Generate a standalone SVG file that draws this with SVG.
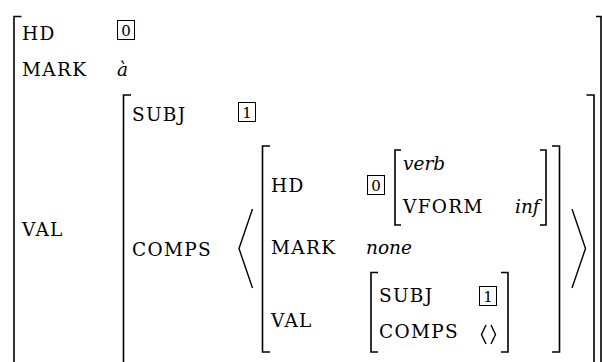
<svg xmlns="http://www.w3.org/2000/svg" width="602" height="362" viewBox="0 0 602 362" font-family="DejaVu Serif">
<style>
text{fill:#000}
.f{font-size:18.5px;letter-spacing:1.3px}
.i{font-size:18.5px;font-style:italic}
.n{font-size:15px;text-anchor:middle}
.b{fill:none;stroke:#000;stroke-width:1.6}
.a{fill:none;stroke:#000;stroke-width:1.4}
.t{fill:none;stroke:#000;stroke-width:1}
</style>
<rect width="602" height="362" fill="#fff"/>
<g id="brackets">
<path class="b" d="M21.5,16.5 H14 V380"/>
<path class="b" d="M596,16.5 H601 V380"/>
<path class="b" d="M131,95 H123.5 V380"/>
<path class="b" d="M586.5,95 H594 V380"/>
<path class="b" d="M270,146 H262.5 V352 H270"/>
<path class="b" d="M552,146 H559.5 V352 H552"/>
<path class="b" d="M401,150 H395 V225 H401"/>
<path class="b" d="M540,150 H546 V225 H540"/>
<path class="b" d="M378,272.5 H371 V352 H378"/>
<path class="b" d="M501,272.5 H508 V352 H501"/>
<path class="a" d="M252.5,209 L239,248.5 L252.5,288"/>
<path class="a" d="M572,209 L585.5,248.5 L572,288"/>
</g>
<g id="outer" font-family="DejaVu Serif">
<text class="f" x="22" y="40">HD</text>
<rect class="t" x="117.5" y="20.5" width="17" height="19"/>
<text class="n" x="126" y="35.5">0</text>
<text class="f" x="22" y="76">MARK</text>
<text class="i" x="117" y="76">à</text>
<text class="f" x="22" y="236">VAL</text>
</g>
<g id="val" font-family="DejaVu Serif">
<text class="f" x="132" y="121">SUBJ</text>
<rect class="t" x="238.5" y="102.5" width="17" height="19"/>
<text class="n" x="247" y="117.5">1</text>
<text class="f" x="132" y="256">COMPS</text>
</g>
<g id="comps-item" font-family="DejaVu Serif">
<text class="f" x="271" y="192">HD</text>
<rect class="t" x="367.5" y="175.5" width="17" height="19"/>
<text class="n" x="376" y="190.5">0</text>
<text class="i" x="403" y="170">verb</text>
<text class="f" x="403" y="213">VFORM</text>
<text class="i" x="515" y="213">inf</text>
<text class="f" x="271" y="254">MARK</text>
<text class="i" x="366" y="254">none</text>
<text class="f" x="271" y="327">VAL</text>
<text class="f" x="379" y="302">SUBJ</text>
<rect class="t" x="479.5" y="286.5" width="17" height="19"/>
<text class="n" x="488" y="301.5">1</text>
<text class="f" x="379" y="338">COMPS</text>
<path class="a" d="M486,325 L481.5,334.5 L486,344 M491,325 L495.5,334.5 L491,344"/>
</g>
</svg>
